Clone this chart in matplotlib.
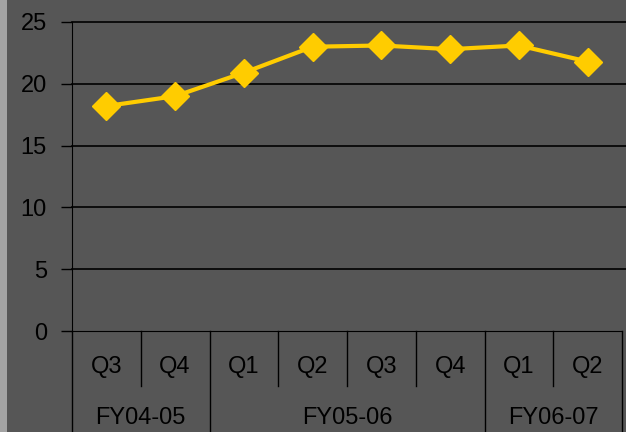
import matplotlib
matplotlib.use("Agg")
import matplotlib.pyplot as plt
from matplotlib.patches import Rectangle

plt.rcParams['font.family'] = ['Liberation Sans', 'DejaVu Sans']

# data
quarters = ["Q3", "Q4", "Q1", "Q2", "Q3", "Q4", "Q1", "Q2"]
values = [18.2, 19.0, 20.9, 23.0, 23.1, 22.8, 23.1, 21.8]
years = ["FY04-05", "FY05-06", "FY06-07"]
year_spans = [(0, 2), (2, 6), (6, 8)]
yticks = [0, 5, 10, 15, 20, 25]

bg = "#565656"
fig = plt.figure(figsize=(6.26, 4.32), dpi=100, facecolor=bg)
fig.patches.append(Rectangle((0, 0), 7 / 626, 1, transform=fig.transFigure,
                             facecolor="#a3a3a3", edgecolor="none"))

ax = fig.add_axes([72 / 626, 101 / 432, 550 / 626, 309 / 432])
ax.set_facecolor(bg)

x = list(range(len(values)))
ax.plot(x, values, color="#ffcc00", lw=3, marker="D", markersize=14,
        markerfacecolor="#ffcc00", markeredgecolor="#ffcc00", zorder=3)

ax.set_xlim(-0.5, len(values) - 0.5)
ax.set_ylim(0, 25)
ax.set_yticks(yticks)
ax.set_yticklabels([str(t) for t in yticks], fontsize=17, color="black")
ax.tick_params(axis="y", length=8, width=1, color="black", pad=10)
# gridlines run on to the right edge of the picture
ytr = ax.get_yaxis_transform()
for t in yticks[1:]:
    ax.plot([0, 1.01], [t, t], transform=ytr, color="black", lw=1.2,
            zorder=1, clip_on=False)
ax.set_xticks([])

for s in ["top", "right"]:
    ax.spines[s].set_visible(False)
ax.spines["left"].set_color("black")
ax.spines["bottom"].set_color("black")

# two-level category axis
tr = ax.get_xaxis_transform()
for i, q in enumerate(quarters):
    ax.text(i, -0.118, q, transform=tr, ha="center", va="center",
            fontsize=17, color="black")
starts = [s for s, e in year_spans]
for i in range(len(quarters) + 1):
    low = -0.33 if (i in starts or i == len(quarters)) else -0.178
    ax.plot([i - 0.5, i - 0.5], [0, low], transform=tr, color="black",
            lw=1, clip_on=False)
for name, (s, e) in zip(years, year_spans):
    ax.text((s + e - 1) / 2, -0.283, name, transform=tr, ha="center",
            va="center", fontsize=17, color="black")

fig.savefig("out.png", dpi=100, facecolor=bg)
